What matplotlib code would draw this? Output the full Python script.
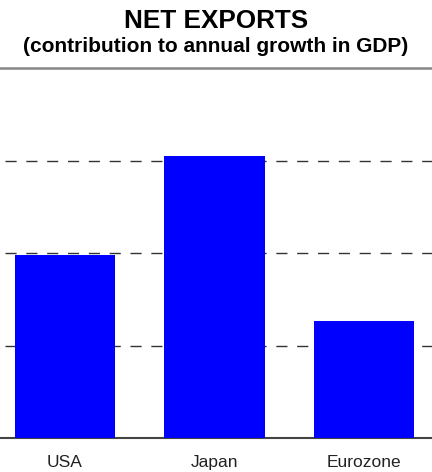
"""Net exports bar chart: contribution to annual growth in GDP."""

import matplotlib
matplotlib.use("Agg")
import matplotlib.pyplot as plt

# --- Data ---
regions = ["USA", "Japan", "Eurozone"]
contribution = [1.98, 3.05, 1.27]
grid_levels = [1, 2, 3]

BAR_BLUE = "#0000FF"
FONT = "Liberation Sans"


def main():
    fig = plt.figure(figsize=(4.32, 4.72), dpi=100)
    fig.patch.set_facecolor("white")
    ax = fig.add_axes([0.0, 34 / 472, 1.0, 370 / 472])

    x = range(len(regions))
    ax.bar(x, contribution, width=0.67, color=BAR_BLUE, zorder=3)

    # dashed reference lines
    for lvl in grid_levels:
        ax.axhline(lvl, xmin=5 / 432, xmax=1.0, color="#333333",
                   linewidth=1.0, linestyle=(0, (8, 7)), zorder=1)

    ax.set_xlim(-0.435, 2.455)
    ax.set_ylim(0, 4)

    for side in ["left", "right"]:
        ax.spines[side].set_visible(False)
    ax.spines["top"].set_color("#888888")
    ax.spines["top"].set_linewidth(1.8)
    ax.spines["bottom"].set_color("#444444")
    ax.spines["bottom"].set_linewidth(1.5)

    ax.set_yticks([])
    ax.set_xticks(list(x))
    ax.set_xticklabels(regions, fontsize=12.5, family=FONT, color="#222222")
    ax.tick_params(axis="x", length=0, pad=12)

    # --- Title ---
    fig.text(0.5, 1 - 21 / 472, "NET EXPORTS", ha="center", va="center",
             fontsize=18.8, fontweight="bold", family=FONT)
    fig.text(0.5, 1 - 46 / 472, "(contribution to annual growth in GDP)",
             ha="center", va="center", fontsize=15, fontweight="bold",
             family=FONT)

    fig.savefig("out.png", dpi=100, facecolor="white")
    plt.close(fig)


if __name__ == "__main__":
    main()
